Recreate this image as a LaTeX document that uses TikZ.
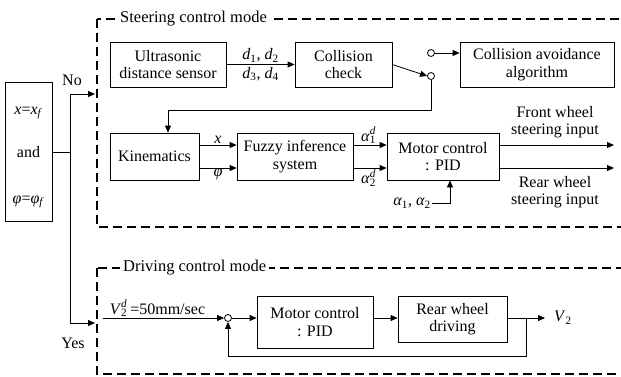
\documentclass[tikz,border=0pt]{standalone}
\usepackage{fontspec}
\setmainfont{Liberation Serif}
\usetikzlibrary{positioning, arrows.meta}
\tikzstyle{block} = [rectangle, draw=black, line width=0.8pt, text centered, align=center, inner sep=1pt, font=\fontsize{16}{17.5}\selectfont]
\tikzstyle{arrow} = [line width=0.8pt, -{Triangle[length=7pt, width=6pt]}]
\tikzstyle{line} = [line width=0.8pt]
\tikzstyle{modebox} = [line width=2pt, dash pattern=on 9pt off 5pt]
\tikzstyle{modelabel} = [fill=white, inner sep=3pt, font=\fontsize{16.5}{17.5}\selectfont]
\tikzstyle{lbl} = [font=\fontsize{16}{17.5}\selectfont, inner sep=1pt]
\tikzstyle{sw} = [circle, draw=black, line width=0.8pt, fill=white, minimum size=7pt, inner sep=0pt]
\newcommand{\vi}[1]{\textit{#1}}
\newcommand{\subsup}[2]{\rlap{\textsuperscript{\vi{#2}}}\textsubscript{#1}}

\begin{document}
\begin{tikzpicture}[x=1pt, y=-1pt]
    \useasboundingbox (0,0) rectangle (621,376);
    \clip (0,0) rectangle (621,376);
    % mode frames
    \draw [modebox] (97,19) rectangle (640,227);
    \draw [modebox] (97,268) rectangle (640,374);
    \node (steerlbl) [modelabel, anchor=west] at (117,19) {Steering control mode};
    \node (drivelbl) [modelabel, anchor=west] at (120,268) {Driving control mode};

    % condition
    \node (cond) [block, minimum width=47pt, minimum height=139pt] at (28.5,152) {};
    \node (cx) [lbl] at (28.5,113) {\vi{x}=\vi{x}\textsubscript{\vi{f}}};
    \node (cand) [lbl] at (28.5,152) {and};
    \node (cphi) [lbl] at (28.5,202) {\vi{φ}=\vi{φ}\textsubscript{\vi{f}}};
    \coordinate (split) at (70,152);
    \coordinate (noin) at (95,94);
    \coordinate (yesin) at (95,323);
    \draw [line] (cond.east |- split) -- (split);
    \draw [arrow] (split) |- (noin);
    \draw [arrow] (split) |- (yesin);
    \node (nolbl) [lbl] at (72,80) {No};
    \node (yeslbl) [lbl] at (73,343) {Yes};

    % steering control
    \node (sensor) [block, minimum width=116pt, minimum height=45pt] at (168,64.5) {Ultrasonic\\distance sensor};
    \node (check) [block, minimum width=97pt, minimum height=45pt] at (343.5,64.5) {Collision\\check};
    \node (avoid) [block, minimum width=154pt, minimum height=45pt] at (537,64.5) {Collision avoidance\\algorithm};
    \node (swup) [sw] at (431,53) {};
    \node (swdn) [sw] at (431,76) {};
    \draw [arrow] (sensor) -- (check) node[midway, above, lbl, yshift=1pt] {\vi{d}\textsubscript{1}, \vi{d}\textsubscript{2}} node[midway, below, lbl, yshift=-1pt] {\vi{d}\textsubscript{3}, \vi{d}\textsubscript{4}};
    \draw [arrow] (check.east) -- (swdn.west);
    \draw [arrow] (swup) -- (avoid.west |- swup);

    \node (kin) [block, minimum width=89pt, minimum height=47pt] at (154.5,156.5) {Kinematics};
    \node (fuzzy) [block, minimum width=116pt, minimum height=47pt] at (295,156.5) {Fuzzy inference\\system};
    \node (motor) [block, minimum width=112pt, minimum height=47pt] at (443,156.5) {Motor control\\: PID};
    \draw [arrow] (swdn.south) |- (168,110) -- (kin.north -| 168,0);

    \draw [arrow] ([yshift=11.5pt]kin.east) -- ([yshift=11.5pt]fuzzy.west) node[midway, above, lbl] {\vi{x}};
    \draw [arrow] ([yshift=-11.5pt]kin.east) -- ([yshift=-11.5pt]fuzzy.west) node[midway, below, lbl] {\vi{φ}};
    \draw [arrow] ([yshift=11.5pt]fuzzy.east) -- ([yshift=11.5pt]motor.west) node[midway, above, lbl] {\vi{α}\subsup{1}{d}\kern3pt};
    \draw [arrow] ([yshift=-11.5pt]fuzzy.east) -- ([yshift=-11.5pt]motor.west) node[midway, below, lbl] {\vi{α}\subsup{2}{d}\kern3pt};

    \coordinate (frontout) at (614,145);
    \coordinate (rearout) at (614,168);
    \draw [arrow] ([yshift=11.5pt]motor.east) -- (frontout);
    \draw [arrow] ([yshift=-11.5pt]motor.east) -- (rearout);
    \node (frontlbl) [lbl, align=center] at (555,122) {Front wheel\\steering input};
    \node (rearlbl) [lbl, align=center] at (555,192) {Rear wheel\\steering input};
    \node (alphalbl) [lbl, anchor=east] at (432,203) {\vi{α}\textsubscript{1}, \vi{α}\textsubscript{2}};
    \draw [arrow] (alphalbl.east) -| (motor.south -| 450,0);

    % driving control
    \node (sum) [sw] at (228,318) {};
    \node (pid) [block, minimum width=116pt, minimum height=52pt] at (315,322) {Motor control\\: PID};
    \node (rear) [block, minimum width=109pt, minimum height=46pt] at (452.5,319) {Rear wheel\\driving};
    \coordinate (vin) at (103,318);
    \coordinate (vout) at (545,318);
    \coordinate (branch) at (526,318);
    \draw [arrow] (vin) -- (sum.west) node[pos=0.45, above, lbl] {\vi{V}\subsup{2}{d}\kern3pt =50mm/sec};
    \draw [arrow] (sum.east) -- (pid.west |- sum);
    \draw [arrow] (pid.east |- sum) -- (rear.west |- sum);
    \draw [arrow] (rear.east |- sum) -- (vout);
    \node (v2lbl) [lbl, anchor=west] at (553,318) {\vi{V}\textsubscript{2}};
    \draw [arrow] (branch) |- (228,356) -- (sum.south);
\end{tikzpicture}
\end{document}
